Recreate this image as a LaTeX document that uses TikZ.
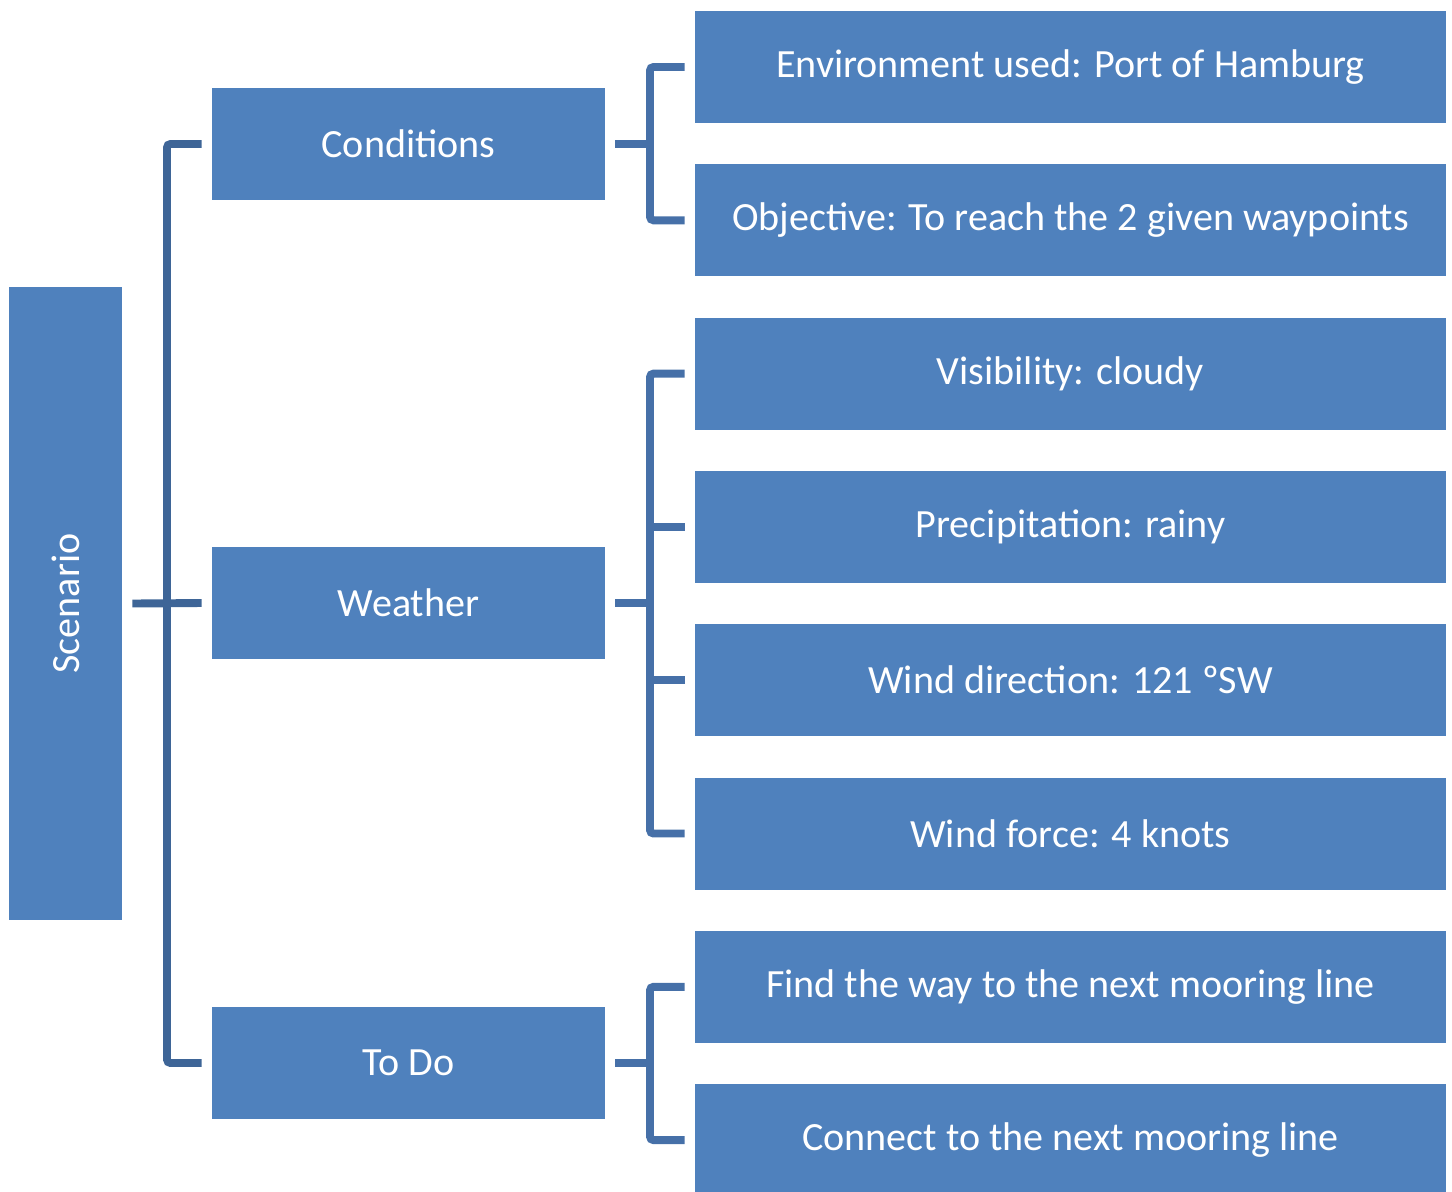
\documentclass[tikz,border=0pt]{standalone}
\usepackage{fontspec}
\setmainfont{Carlito}
\usetikzlibrary{positioning}
\definecolor{boxblue}{HTML}{4F81BD}
\definecolor{trunkblue}{HTML}{3E6597}
\definecolor{branchblue}{HTML}{4670A8}
\tikzset{
	card/.style={fill=boxblue, text=white, inner sep=0pt, font=\fontsize{22.8}{27}\selectfont},
	topic/.style={card, minimum width=7.86cm, minimum height=2.24cm},
	item/.style={card, minimum width=15.02cm, minimum height=2.24cm},
	link/.style={line width=4.5pt, rounded corners=2pt},
}

\begin{document}
\begin{tikzpicture}[x=0.02cm, y=-0.02cm]
\clip (0,0) rectangle (1452,1191);
% root
\node [card, minimum width=2.26cm, minimum height=12.66cm] (scen) at (65.5,603.5) {};
\node [card, fill=none, rotate=90] at (scen.center) {Scenario};
% second level
\node [topic] (cond) at (408.5,144) {Conditions};
\node [topic] (weather) at (408.5,603) {Weather};
\node [topic] (todo) at (408.5,1063) {To Do};
% leaves
\foreach \nm/\txt [count=\i from 0] in {env/{Environment used: Port of Hamburg},
	obj/{Objective: To reach the 2 given waypoints},
	vis/{Visibility: cloudy},
	prec/{Precipitation: rainy},
	wdir/{Wind direction: 121 ºSW},
	wforce/{Wind force: 4 knots},
	find/{Find the way to the next mooring line},
	conn/{Connect to the next mooring line}}{
	\node [item] (\nm) at (1070.5,67+153.3*\i) {\txt};
}
% connectors
\coordinate (trunk) at (167,603);
\draw [link, trunkblue] ([xshift=0.2cm]scen.east) -- ([xshift=-0.2cm]weather.west);
\draw [link, trunkblue] ([xshift=-0.2cm]cond.west) -| (trunk) |- ([xshift=-0.2cm]todo.west);

\coordinate (jc) at (650,144);
\coordinate (jw) at (650,603);
\coordinate (jt) at (650,1063);
\draw [link, branchblue] ([xshift=0.2cm]cond.east) -- (jc);
\draw [link, branchblue] ([xshift=-0.2cm]env.west) -| (jc) |- ([xshift=-0.2cm]obj.west);
\draw [link, branchblue] ([xshift=0.2cm]weather.east) -- (jw);
\draw [link, branchblue] ([xshift=-0.2cm]vis.west) -| (jw) |- ([xshift=-0.2cm]wforce.west);
\draw [link, branchblue] ([xshift=-0.2cm]prec.west) -- (jw |- prec.west);
\draw [link, branchblue] ([xshift=-0.2cm]wdir.west) -- (jw |- wdir.west);
\draw [link, branchblue] ([xshift=0.2cm]todo.east) -- (jt);
\draw [link, branchblue] ([xshift=-0.2cm]find.west) -| (jt) |- ([xshift=-0.2cm]conn.west);
\end{tikzpicture}
\end{document}
